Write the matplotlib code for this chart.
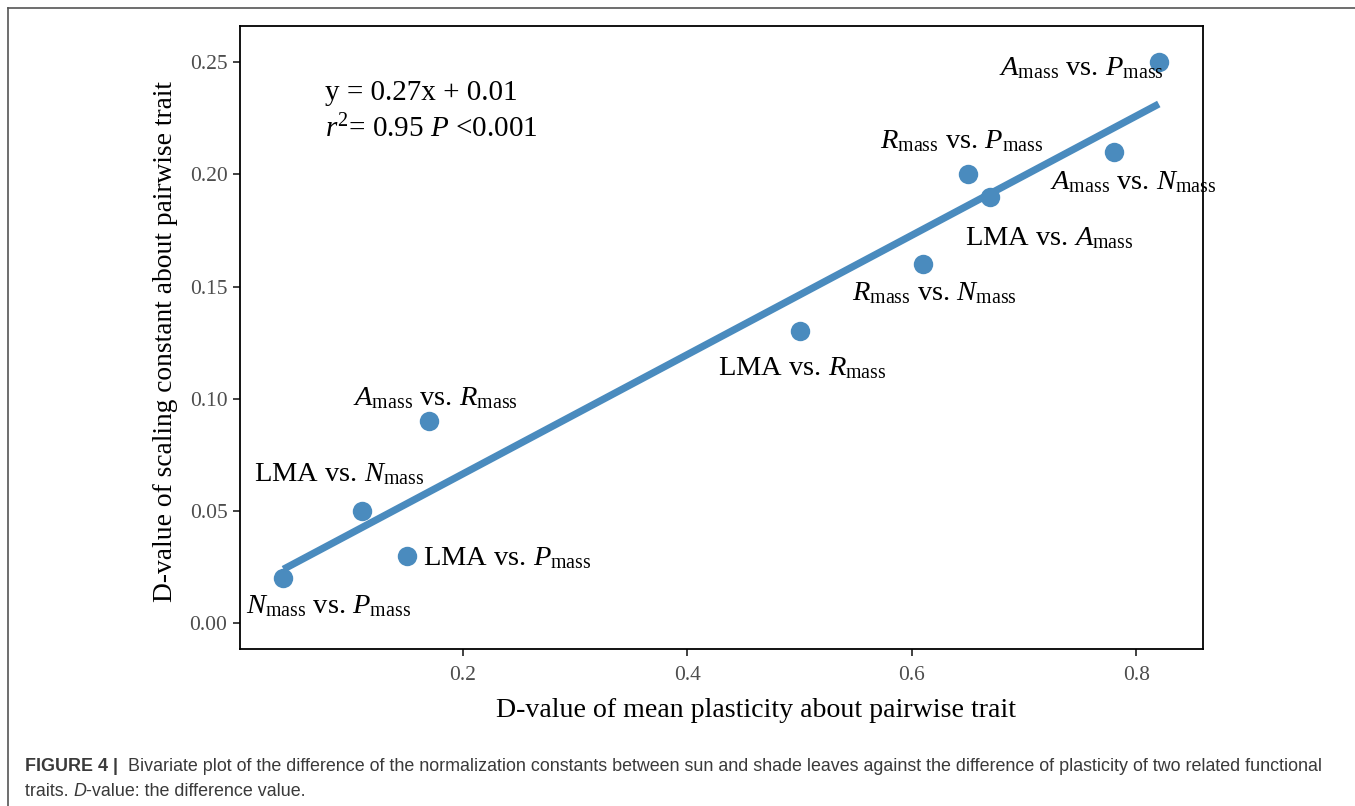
import numpy as np
import matplotlib
matplotlib.use("Agg")
import matplotlib.pyplot as plt
from matplotlib.lines import Line2D

AZUL = "#4A8BBE"
GRIS = "#4D4D4D"

# datos
dif_plasticidad = [0.04, 0.11, 0.15, 0.17, 0.50, 0.61, 0.65, 0.67, 0.78, 0.82]
dif_constante = [0.02, 0.05, 0.03, 0.09, 0.13, 0.16, 0.20, 0.19, 0.21, 0.25]
etiquetas = [
    r"$N_{\mathrm{mass}}$ vs. $P_{\mathrm{mass}}$",
    r"LMA vs. $N_{\mathrm{mass}}$",
    r"LMA vs. $P_{\mathrm{mass}}$",
    r"$A_{\mathrm{mass}}$ vs. $R_{\mathrm{mass}}$",
    r"LMA vs. $R_{\mathrm{mass}}$",
    r"$R_{\mathrm{mass}}$ vs. $N_{\mathrm{mass}}$",
    r"$R_{\mathrm{mass}}$ vs. $P_{\mathrm{mass}}$",
    r"LMA vs. $A_{\mathrm{mass}}$",
    r"$A_{\mathrm{mass}}$ vs. $N_{\mathrm{mass}}$",
    r"$A_{\mathrm{mass}}$ vs. $P_{\mathrm{mass}}$",
]
# desplazamiento de cada etiqueta (pixeles, borde izq / linea base)
desplaz = [(-37, -35), (-108, 30), (16, -9), (-76, 16), (-82, -44),
           (-71, -36), (-88, 26), (-25, -48), (-64, -37), (-160, -13)]

xticks = [0.2, 0.4, 0.6, 0.8]
yticks = [0.00, 0.05, 0.10, 0.15, 0.20, 0.25]

plt.rcParams["font.family"] = ["Liberation Serif", "DejaVu Serif"]
plt.rcParams["mathtext.fontset"] = "custom"
plt.rcParams["mathtext.rm"] = "Liberation Serif"
plt.rcParams["mathtext.it"] = "Liberation Serif:italic"

fig = plt.figure(figsize=(13.55, 8.06), dpi=100)
ax = fig.add_axes([240 / 1355, 1 - 649 / 806, 963 / 1355, 623 / 806])

# recta de regresion (minimos cuadrados)
b1, b0 = np.polyfit(dif_plasticidad, dif_constante, 1)
xr = np.array([min(dif_plasticidad), max(dif_plasticidad)])
ax.plot(xr, b0 + b1 * xr, color=AZUL, linewidth=5.2,
        solid_capstyle="butt", zorder=2)
ax.plot(dif_plasticidad, dif_constante, "o", color=AZUL, markersize=14,
        markeredgewidth=0, zorder=3)

for x, y, txt, (dx, dy) in zip(dif_plasticidad, dif_constante,
                               etiquetas, desplaz):
    ax.annotate(txt, (x, y), xytext=(dx, dy), textcoords="offset pixels",
                ha="left", va="baseline", fontsize=20.5, color="black")

ax.text((325 - 240) / 963, (649 - 100) / 623, "y = 0.27x + 0.01",
        transform=ax.transAxes, fontsize=21, va="baseline", ha="left")
ax.text((325 - 240) / 963, (649 - 137) / 623,
        r"$r^{2}$= 0.95 $P$ <0.001",
        transform=ax.transAxes, fontsize=21, va="baseline", ha="left")

ax.set_xlim(0.0013, 0.8594)
ax.set_ylim(-0.0114, 0.2660)
ax.set_xticks(xticks)
ax.set_xticklabels([f"{v:.1f}" for v in xticks])
ax.set_yticks(yticks)
ax.set_yticklabels([f"{v:.2f}" for v in yticks])
ax.tick_params(axis="both", length=5, width=1.3, color="#333333",
               labelcolor=GRIS, labelsize=15.5)
ax.tick_params(axis="x", pad=7)
ax.tick_params(axis="y", pad=4)
for s in ax.spines.values():
    s.set_linewidth(1.3)
    s.set_color("black")

ax.set_xlabel("D-value of mean plasticity about pairwise trait",
              fontsize=20.1, va="baseline")
ax.xaxis.set_label_coords((756 - 240) / 963, (649 - 717) / 623)
ax.set_ylabel("D-value of scaling constant about pairwise trait",
              fontsize=19.8, va="center")
ax.yaxis.set_label_coords((166 - 240) / 963, (649 - 341) / 623)

# marco exterior (solo arriba e izquierda)
fig.add_artist(Line2D([8 / 1355, 8 / 1355], [0, 1 - 8 / 806],
                      transform=fig.transFigure, color="#555555", lw=1.2))
fig.add_artist(Line2D([8 / 1355, 1], [1 - 8 / 806, 1 - 8 / 806],
                      transform=fig.transFigure, color="#555555", lw=1.2))

# pie de figura
cap = dict(family=["Liberation Sans", "DejaVu Sans"], fontsize=12.9,
           color="#3a3a3a")
fig.text(25 / 1355, 1 - 771 / 806, "FIGURE 4 | ", fontweight="bold",
         va="baseline", **cap)
fig.text(128 / 1355, 1 - 771 / 806,
         "Bivariate plot of the difference of the normalization constants "
         "between sun and shade leaves against the difference of plasticity "
         "of two related functional", va="baseline", **cap)
t2 = fig.text(25 / 1355, 1 - 796 / 806, "traits. ", va="baseline", **cap)
a1 = fig.add_artist(plt.Annotation("D", xy=(1, 0), xycoords=t2,
                                   va="bottom", ha="left", style="italic",
                                   **cap))
fig.add_artist(plt.Annotation("-value: the difference value.", xy=(1, 0),
                              xycoords=a1, va="bottom", ha="left", **cap))

fig.savefig("out.png", dpi=100)
